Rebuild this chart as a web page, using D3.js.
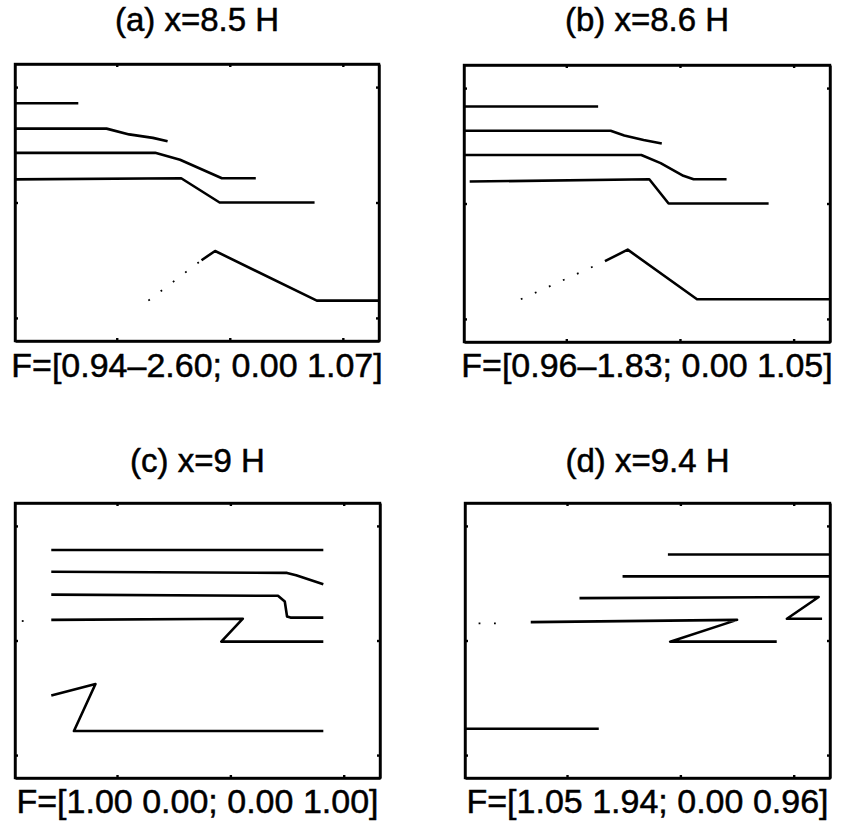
<!DOCTYPE html>
<html>
<head>
<meta charset="utf-8">
<script src="https://d3js.org/d3.v7.min.js"></script>
<style>
  html, body { margin: 0; padding: 0; background: #fff; }
  svg { display: block; }
  text { font-family: "Liberation Sans", Arial, Helvetica, sans-serif; fill: #000; stroke: #000; stroke-width: 0.5px; }
</style>
</head>
<body>
<svg id="chart" width="842" height="840"></svg>
<script>
// ---- data (units: x tick spacing = 1, y tick spacing = 1) ----
const panelTitles = ["(a) x=8.5 H", "(b) x=8.6 H", "(c) x=9 H", "(d) x=9.4 H"];
const panelCaptions = [
  "F=[0.94\u20132.60; 0.00 1.07]",
  "F=[0.96\u20131.83; 0.00 1.05]",
  "F=[1.00 0.00; 0.00 1.00]",
  "F=[1.05 1.94; 0.00 0.96]"
];
const xTicks = [0, 1, 2];
const yTicks = [-1, 0, 1];
const xDomain = [-0.9, 2.32];
const yDomain = [-1.2, 1.2];

// panel (a)
const lineA1 = [[-0.90, 0.86], [-0.34, 0.86]];
const lineA2 = [[-0.90, 0.64], [-0.09, 0.64], [0.11, 0.59], [0.32, 0.56], [0.45, 0.53]];
const lineA3 = [[-0.90, 0.43], [0.34, 0.43], [0.56, 0.37], [0.93, 0.21], [1.23, 0.21]];
const lineA4 = [[-0.90, 0.20], [0.57, 0.21], [0.91, 0.00], [1.75, 0.00]];
const lineA5 = [[0.75, -0.50], [0.87, -0.42], [1.77, -0.85], [2.32, -0.85]];
const dotsA5 = [[0.28, -0.85], [0.75, -0.50]];

// panel (b)
const lineB1 = [[-0.90, 0.84], [0.28, 0.84]];
const lineB2 = [[-0.90, 0.63], [0.39, 0.63], [0.51, 0.59], [0.68, 0.55], [0.84, 0.52]];
const lineB3 = [[-0.90, 0.42], [0.66, 0.42], [0.83, 0.35], [1.03, 0.24], [1.12, 0.21], [1.41, 0.21]];
const lineB4 = [[-0.85, 0.19], [0.73, 0.21], [0.90, 0.00], [1.78, 0.00]];
const lineB5 = [[0.34, -0.50], [0.54, -0.40], [1.15, -0.83], [2.32, -0.83]];
const dotsB5 = [[-0.40, -0.83], [0.34, -0.50]];

// panel (c)
const lineC1 = [[-0.58, 0.79], [1.82, 0.79]];
const lineC2 = [[-0.58, 0.60], [1.50, 0.59], [1.58, 0.57], [1.82, 0.49]];
const lineC3 = [[-0.58, 0.40], [1.42, 0.39], [1.48, 0.34], [1.50, 0.21], [1.53, 0.20], [1.82, 0.20]];
const lineC4 = [[-0.58, 0.18], [1.11, 0.19], [0.92, -0.01], [1.82, -0.01]];
const lineC5 = [[-0.58, -0.48], [-0.19, -0.38], [-0.38, -0.79], [1.82, -0.79]];
const dotsC4 = [[-0.84, 0.17], [-0.75, 0.17]];

// panel (d)
const lineD1 = [[0.89, 0.75], [2.32, 0.75]];
const lineD2 = [[0.49, 0.56], [2.32, 0.56]];
const lineD3 = [[0.11, 0.37], [2.22, 0.38], [1.94, 0.19], [2.25, 0.19]];
const lineD4 = [[-0.32, 0.16], [1.50, 0.18], [0.91, -0.01], [1.85, -0.01]];
const lineD5 = [[-0.90, -0.77], [0.28, -0.77]];
const dotsD4 = [[-0.78, 0.15], [-0.60, 0.15]];

const panelSolid = [
  [lineA1, lineA2, lineA3, lineA4, lineA5],
  [lineB1, lineB2, lineB3, lineB4, lineB5],
  [lineC1, lineC2, lineC3, lineC4, lineC5],
  [lineD1, lineD2, lineD3, lineD4, lineD5]
];
const panelDotted = [[dotsA5], [dotsB5], [dotsC4], [dotsD4]];

// ---- layout ----
const boxes = [
  {x: 15, y: 64, w: 364, h: 277},
  {x: 464, y: 65, w: 366, h: 277},
  {x: 15, y: 503, w: 365, h: 275},
  {x: 465, y: 503, w: 365, h: 275}
];
const titleY = [31, 31, 472, 472];
const capY = [377, 377, 813, 813];

const svg = d3.select("#chart");

boxes.forEach((b, i) => {
  const xs = d3.scaleLinear().domain(xDomain).range([b.x, b.x + b.w]);
  const ys = d3.scaleLinear().domain(yDomain).range([b.y + b.h, b.y]);
  const g = svg.append("g");

  const tick = 3;
  const axes = [
    g.append("g").attr("transform", `translate(0,${b.y})`).call(d3.axisBottom(xs).tickValues(xTicks).tickSizeInner(tick).tickSizeOuter(0).tickFormat("")),
    g.append("g").attr("transform", `translate(0,${b.y + b.h})`).call(d3.axisTop(xs).tickValues(xTicks).tickSizeInner(tick).tickSizeOuter(0).tickFormat("")),
    g.append("g").attr("transform", `translate(${b.x},0)`).call(d3.axisRight(ys).tickValues(yTicks).tickSizeInner(tick).tickSizeOuter(0).tickFormat("")),
    g.append("g").attr("transform", `translate(${b.x + b.w},0)`).call(d3.axisLeft(ys).tickValues(yTicks).tickSizeInner(tick).tickSizeOuter(0).tickFormat(""))
  ];
  axes.forEach(ax => {
    ax.select(".domain").attr("stroke", "#000").attr("stroke-width", 2.4);
    ax.selectAll(".tick line").attr("stroke", "#000").attr("stroke-width", 2.4);
  });

  const line = d3.line().x(d => xs(d[0])).y(d => ys(d[1]));

  g.selectAll("path.solid").data(panelSolid[i]).join("path")
    .attr("class", "solid")
    .attr("d", line)
    .attr("fill", "none")
    .attr("stroke", "#000")
    .attr("stroke-width", 2.6)
    .attr("stroke-linejoin", "round");

  g.selectAll("path.dotted").data(panelDotted[i]).join("path")
    .attr("class", "dotted")
    .attr("d", line)
    .attr("fill", "none")
    .attr("stroke", "#000")
    .attr("stroke-width", 1.8)
    .attr("stroke-dasharray", "1.8,13.6");

  g.append("rect")
    .attr("x", b.x).attr("y", b.y).attr("width", b.w).attr("height", b.h)
    .attr("fill", "none").attr("stroke", "#000").attr("stroke-width", 2.4);

  svg.append("text")
    .attr("x", b.x + b.w / 2).attr("y", titleY[i])
    .attr("text-anchor", "middle")
    .attr("font-size", 33)
    .text(panelTitles[i]);

  svg.append("text")
    .attr("x", b.x + b.w / 2).attr("y", capY[i])
    .attr("text-anchor", "middle")
    .attr("font-size", 34)
    .text(panelCaptions[i]);
});
</script>
</body>
</html>
